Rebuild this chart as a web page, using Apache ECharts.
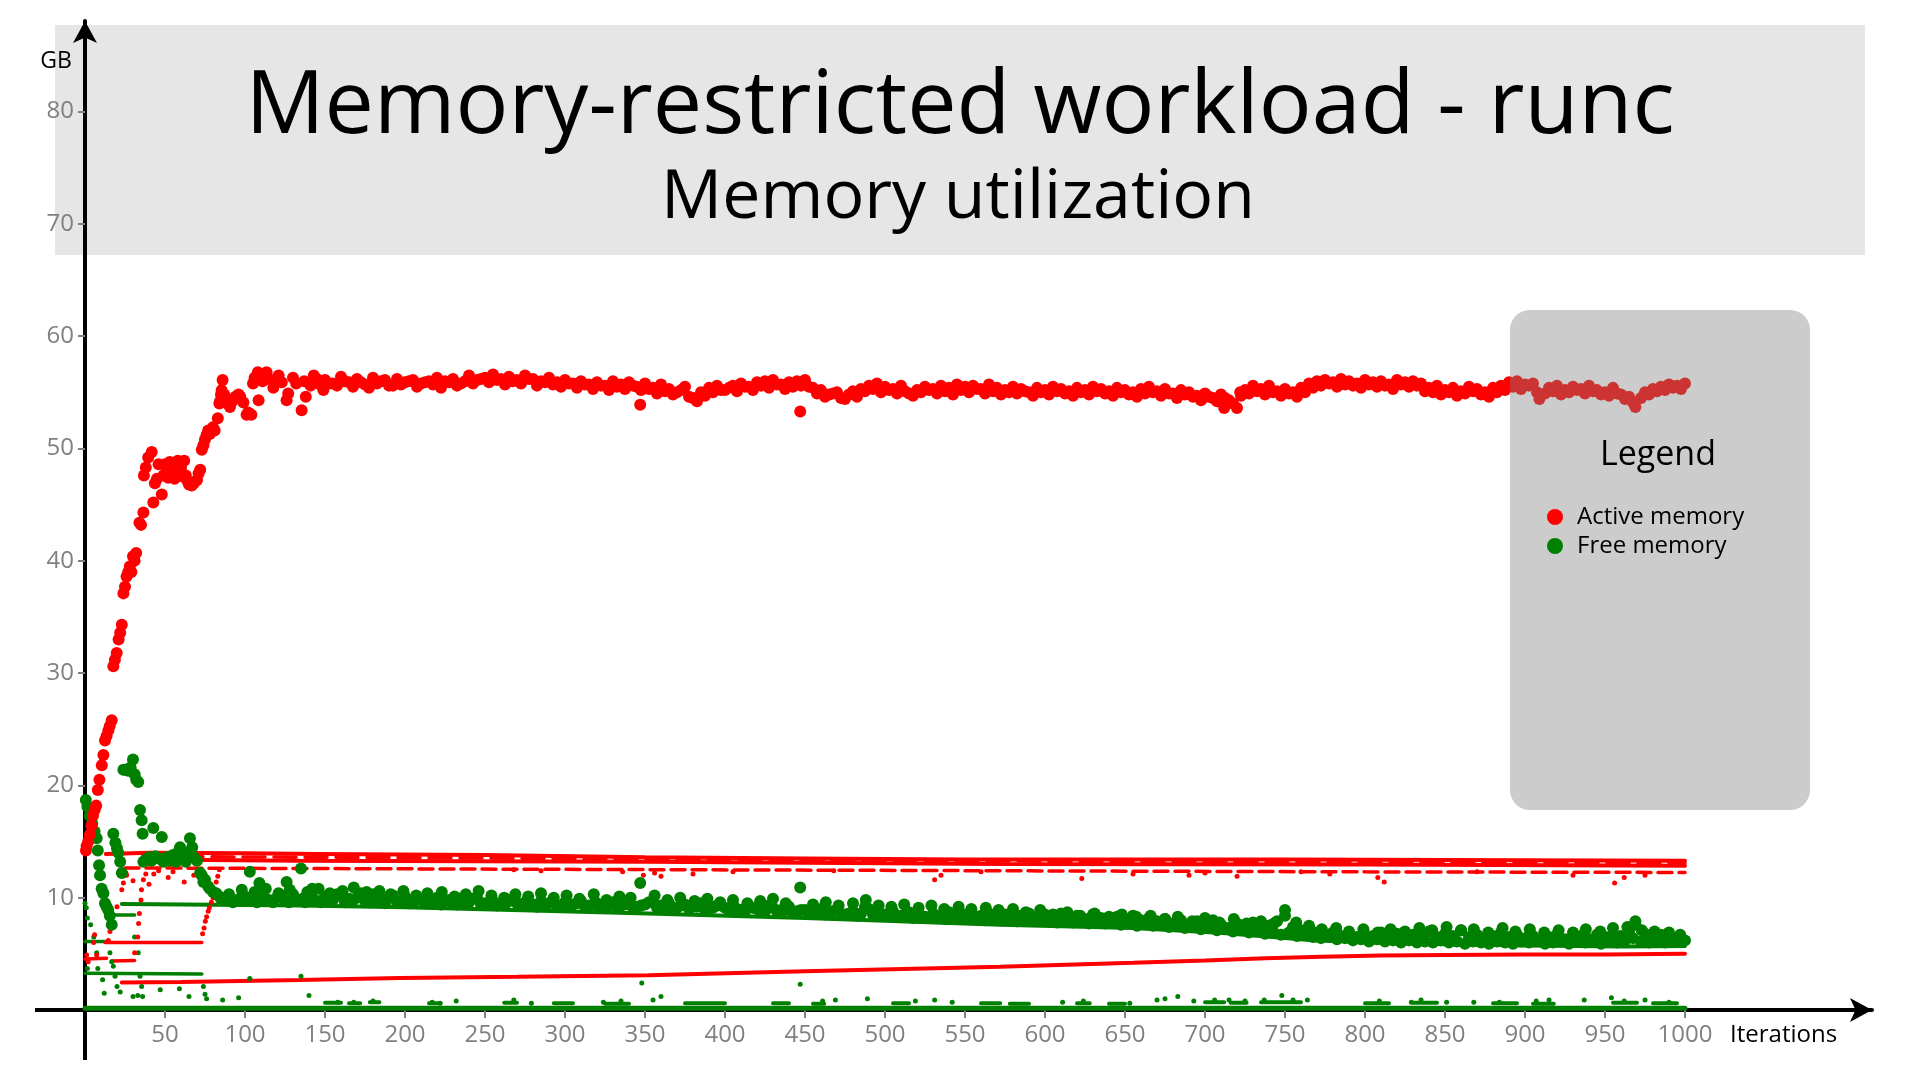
<!DOCTYPE html>
<html><head><meta charset="utf-8">
<script src="https://cdn.jsdelivr.net/npm/echarts@6/dist/echarts.min.js"></script>
<style>html,body{margin:0;padding:0;background:#fff}#c{width:1920px;height:1080px}</style>
</head><body><div id="c"></div>
<script>
// ---------- tick labels ----------
const xTicks = [50,100,150,200,250,300,350,400,450,500,550,600,650,700,750,800,850,900,950,1000];
const yTicks = [10,20,30,40,50,60,70,80];
const seriesNames = ['Active memory', 'Free memory'];

// ---------- Active memory (large markers) [iteration, GB] ----------
const activeMain = [
[0.6,14.2],[1,14.6],[2,15.0],[3,15.6],[4,16.4],[5,17.3],[6,17.8],[7,18.2],[8,19.6],[9,20.5],[10.5,21.8],[11.5,22.7],[12.5,24.0],[13.5,24.4],[14.6,24.9],[15.5,25.3],[16.7,25.8],
[17.7,30.6],[18.7,31.2],[19.8,31.8],[21,33.0],[22,33.6],[23,34.3],[24,37.1],[25,37.7],[26,38.6],[27,39.0],[28,39.5],[29,39.0],[30,40.4],[31,40.0],[32,40.7],[34,43.4],[35,43.2],[36.5,44.3],[36.8,47.6],[38,48.3],[39.5,49.2],[41.7,49.7],[42.7,45.2],[43.7,46.9],[45,47.3],[46,48.6],[48,45.9],[49,47.6],[50,48.6],[51,48.1],[52,47.4],[53,48.8],[54,47.9],[55,48.4],[56,47.3],[57,48.0],[58,48.9],[59,47.8],[60,48.3],[61,47.5],[62,48.9],[63,47.6],[64,47.1],[65,46.8],[66.7,46.7],[68,46.9],[70,47.2],[71,47.8],[72,48.1],[73,49.9],[74,50.3],[75,50.8],[76,51.2],[77,51.6],[78,51.3],[80,51.9],[81,51.6],[83,52.7],[84,54.0],[84.4,54.2],[85,54.8],[85.4,55.2],[86,56.1],[87,54.8],[89,54.0],[90.6,53.7],[92,54.2],[94,54.6],[96,54.8],[97,54.6],[99,54.1],[101,53.0],[102,53.2],[104,53.0],[105,55.8],[106,56.3],[108,56.8],[108.5,54.3],[111,56.0],[113.5,56.8],[115,56.2],[117.7,55.4],[119,56.0],[121,56.5],[123,55.9],[126,54.3],[127,54.9],[130,56.3],[132,55.8],[135.4,53.4],[137,56.0],[138,54.6],[141,55.6],[143,56.5],[145,56.2],[147,55.7],[149,55.2],
[150,56.1],[155,55.8],[160,56.4],[165,55.9],[170,56.2],[175,55.7],[180,56.3],[185,56.0],[190,55.6],[195,56.2],[200,55.9],[205,56.1],[210,55.8],[215,56.0],[220,56.3],[225,56.0],[230,56.2],[235,55.8],[240,56.5],[245,56.1],[250,56.3],[255,56.6],[260,56.2],[265,56.4],[270,56.1],[275,56.5],[280,56.2],[285,56.0],[290,56.3],[295,55.9],[300,56.1],[305,55.8],[310,56.0],[315,55.7],[320,55.9],[325,55.6],[330,56.0],[335,55.7],[340,55.9],[345,55.5],[347,53.9],[350,55.8],[355,55.4],[360,55.7],[365,55.3],[370,55.0],[375,55.5],[380,54.5],[385,55.0],[390,55.4],[395,55.6],[400,55.2],[405,55.6],[410,55.8],[415,55.5],[420,55.9],[425,56.0],[430,56.1],[435,55.7],[440,55.9],[445,56.0],[447,53.3],[450,56.1],[455,55.4],[460,55.2],[465,54.8],[470,55.0],[475,54.4],[480,55.1],[485,55.3],[490,55.6],[495,55.8],[500,55.5],[505,55.3],[510,55.6],[515,54.9],[520,55.2],[525,55.5],[530,55.3],[535,55.6],[540,55.4],[545,55.7],[550,55.5],[555,55.6],[560,55.3],[565,55.7],[570,55.4],[575,55.2],[580,55.5],[585,55.3],[590,55.0],[595,55.4],[600,55.2],[605,55.5],[610,55.3],[615,55.1],[620,55.4],[625,55.2],[630,55.5],[635,55.3],[640,55.1],[645,55.4],[650,55.2],[655,55.0],[660,55.3],[665,55.5],[670,55.1],[675,55.3],[680,54.9],[685,55.2],[690,55.0],[695,54.7],[700,54.9],[705,54.5],[710,54.8],[712,53.6],[715,54.3],[720,53.6],[722,55.0],[725,55.2],[730,55.6],[735,55.3],[740,55.6],[745,55.1],[750,55.3],[755,55.0],[760,55.4],[765,55.8],[770,56.0],[775,56.1],[780,55.9],[785,56.2],[790,56.0],[795,55.8],[800,56.1],[805,55.9],[810,56.0],[815,55.7],[820,56.1],[825,55.9],[830,56.0],[835,55.8],[840,55.4],[845,55.6],[850,55.2],[855,55.4],[860,55.1],[865,55.5],[870,55.3],[875,55.0],[880,55.4],[885,55.6],[890,55.9],[895,56.0],[900,55.7],[905,55.8],[909,54.4],[915,55.4],[920,55.6],[925,55.2],[930,55.5],[935,55.3],[940,55.6],[945,55.2],[950,55.0],[955,55.4],[960,54.8],[965,54.6],[969,53.7],[975,55.0],[980,55.3],[985,55.5],[990,55.7],[995,55.6],[1000,55.8]
];
const activeMainB = [
[152.5,55.8],[157.5,55.6],[162.5,56.0],[167.5,55.5],[172.5,55.9],[177.5,55.4],[182.5,55.8],[187.5,56.1],[192.5,55.6],[197.5,55.7],
[202.5,56.0],[207.5,55.5],[212.5,55.9],[217.5,55.7],[222.5,55.4],[227.5,55.9],[232.5,55.6],[237.5,56.0],[242.5,55.8],[247.5,56.2],
[252.5,55.9],[257.5,56.1],[262.5,55.7],[267.5,56.0],[272.5,55.8],[277.5,56.2],[282.5,55.6],[287.5,55.9],[292.5,55.7],[297.5,55.5],
[302.5,55.8],[307.5,55.4],[312.5,55.7],[317.5,55.3],[322.5,55.6],[327.5,55.2],[332.5,55.5],[337.5,55.3],[342.5,55.6],[347.5,55.2],
[352.5,55.3],[357.5,54.9],[362.5,55.1],[367.5,54.8],[372.5,55.2],[377.5,54.6],[382.5,54.2],[387.5,54.7],[392.5,55.0],[397.5,55.2],
[402.5,55.4],[407.5,55.1],[412.5,55.5],[417.5,55.2],[422.5,55.6],[427.5,55.4],[432.5,55.7],[437.5,55.3],[442.5,55.5],[447.5,55.6],
[452.5,55.5],[457.5,54.9],[462.5,54.6],[467.5,54.9],[472.5,54.5],[477.5,54.8],[482.5,54.6],[487.5,55.1],[492.5,55.3],[497.5,55.0],
[502.5,55.2],[507.5,54.9],[512.5,55.1],[517.5,54.7],[522.5,55.0],[527.5,55.2],[532.5,54.9],[537.5,55.1],[542.5,54.8],[547.5,55.2],
[552.5,55.0],[557.5,55.3],[562.5,54.9],[567.5,55.1],[572.5,54.8],[577.5,55.0],[582.5,54.9],[587.5,55.1],[592.5,54.7],[597.5,55.0],
[602.5,54.8],[607.5,55.1],[612.5,54.9],[617.5,54.7],[622.5,55.0],[627.5,54.8],[632.5,55.1],[637.5,54.9],[642.5,54.7],[647.5,55.0],
[652.5,54.8],[657.5,54.6],[662.5,54.9],[667.5,55.0],[672.5,54.7],[677.5,54.9],[682.5,54.5],[687.5,54.8],[692.5,54.6],[697.5,54.3],
[702.5,54.6],[707.5,54.2],[712.5,54.5],[717.5,54.0],[722.5,54.7],[727.5,54.9],[732.5,55.1],[737.5,54.8],[742.5,55.0],[747.5,54.7],
[752.5,54.9],[757.5,54.6],[762.5,55.0],[767.5,55.4],[772.5,55.6],[777.5,55.8],[782.5,55.5],[787.5,55.7],[792.5,55.6],[797.5,55.4],
[802.5,55.7],[807.5,55.5],[812.5,55.6],[817.5,55.3],[822.5,55.7],[827.5,55.5],[832.5,55.6],[837.5,55.1],[842.5,55.0],[847.5,54.8],
[852.5,55.0],[857.5,54.7],[862.5,54.9],[867.5,55.1],[872.5,54.8],[877.5,54.6],[882.5,55.0],[887.5,55.2],[892.5,55.5],[897.5,55.3],
[902.5,55.6],[907.5,55.0],[912.5,54.9],[917.5,55.1],[922.5,54.8],[927.5,55.0],[932.5,55.2],[937.5,54.9],[942.5,55.1],[947.5,54.8],
[952.5,54.7],[957.5,54.9],[962.5,54.4],[967.5,54.1],[972.5,54.5],[977.5,54.8],[982.5,55.1],[987.5,55.2],[992.5,55.4],[997.5,55.3]
];

// ---------- Free memory (large markers) ----------
const freeMain = [
[0.5,18.7],[1.5,18.1],[3,17.3],[4.5,16.6],[6,15.9],[7.3,15.3],[8,14.2],[8.8,12.9],[9.4,12.0],[10.4,10.8],[11.5,10.4],[12.5,9.5],[13.5,9.2],[14.5,8.9],[15.5,8.4],[16.7,7.6],
[17.7,15.7],[19,14.9],[20,14.4],[20.8,14.0],[22,13.2],[23,12.2],[24,21.4],[25.5,21.4],[27,21.3],[28.5,21.6],[30,22.3],[31,21.0],[32,20.5],[33.3,20.3],[34.4,17.8],[35.4,16.9],[36,15.7],[36.5,13.2],[38,13.4],[40,13.6],[41.5,13.3],[42.7,16.2],[44,13.7],[46,13.5],[48,15.4],[49,13.2],[51,13.6],[53,13.3],[55,13.8],[57,13.2],[58,14.0],[59.4,14.5],[61,13.5],[63,13.2],[64,14.0],[65.6,15.3],[67,14.5],[68,13.6],[70,13.3],[72,12.2],[73,12.0],[74,11.4],[75,11.6],[77,11.0],[78,10.8],[80,10.5],[82,10.4],[84,10.1],
[85,9.9],[90,10.3],[95,9.8],[100,10.1],[103,12.3],[105,9.9],[109,11.3],[110,10.2],[115,9.8],[120,10.0],[125,9.7],[126,11.4],[130,10.3],[135,12.6],[136,9.9],[140,10.0],[142,10.8],[145,9.7],[150,10.1],[155,9.8],[160,10.2],[165,9.9],[170,10.0],[175,9.7],[180,10.3],[185,9.8],[190,10.0],[195,9.6],[200,10.1],[205,9.7],[210,9.9],[215,9.6],[220,10.0],[225,9.7],[230,9.5],[235,9.9],[240,9.6],[245,10.0],[250,9.5],[255,9.7],[260,9.4],[265,9.8],[270,9.5],[275,9.6],[280,9.4],[285,9.7],[290,9.5],[295,9.3],[300,9.6],[305,9.4],[310,9.7],[315,9.3],[320,9.5],[325,9.2],[330,9.6],[335,9.3],[340,9.5],[345,9.2],[347,11.3],[350,9.4],[355,9.7],[360,9.3],[365,9.5],[370,9.1],[375,9.4],[380,9.2],[385,9.5],[390,9.0],[395,9.3],[400,9.1],[405,9.4],[410,8.9],[415,9.2],[420,9.0],[425,8.8],[430,9.1],[435,8.9],[440,9.2],[445,8.8],[447,10.9],[450,8.9],[455,8.7],[460,9.0],[465,8.6],[470,8.9],[475,8.5],[480,8.8],[485,8.6],[490,9.0],[495,8.7],[500,8.5],[505,8.8],[510,8.4],[515,8.7],[520,8.5],[525,8.3],[530,8.6],[535,8.4],[540,8.7],[545,8.3],[550,8.5],[555,8.2],[560,8.4],[565,8.6],[570,8.3],[575,8.5],[580,8.7],[585,8.4],[590,8.6],[595,8.2],[600,8.5],[605,8.3],[610,8.6],[615,8.2],[620,8.4],[625,8.1],[630,8.5],[635,8.2],[640,8.0],[645,8.3],[650,8.1],[655,8.4],[660,8.0],[665,8.2],[670,7.9],[675,8.1],[680,7.7],[685,8.0],[690,7.6],[695,7.9],[700,7.5],[705,8.0],[710,7.6],[715,7.3],[720,7.7],[725,7.4],[730,7.8],[735,7.2],[740,7.5],[745,7.9],[750,8.4],[755,7.4],[760,7.1],[765,7.3],[770,6.9],[775,6.7],[780,6.9],[785,6.6],[790,6.8],[795,6.5],[800,6.7],[805,6.6],[810,6.9],[815,6.5],[820,6.8],[825,6.4],[830,6.7],[835,6.6],[840,7.0],[845,6.5],[850,6.8],[855,6.6],[860,7.1],[865,6.5],[870,6.7],[875,6.4],[880,6.6],[885,6.9],[890,6.5],[895,6.7],[900,6.4],[905,6.6],[910,6.3],[915,6.5],[920,6.7],[925,6.3],[930,6.5],[935,6.6],[940,6.3],[945,6.7],[950,6.5],[955,6.8],[960,6.6],[965,7.0],[969,7.6],[975,6.8],[980,6.5],[985,6.7],[990,6.4],[995,6.3],[1000,6.2]
];
const freeMainB = [
[87.5,9.8],[92.5,9.6],[97.5,10.0],[102.5,9.7],[107.5,9.6],[112.5,9.9],[117.5,9.6],[122.5,10.2],[127.5,9.6],[132.5,9.8],
[137.5,9.6],[142.5,9.9],[147.5,9.6],[152.5,9.7],[157.5,10.3],[162.5,9.6],[167.5,9.8],[172.5,10.4],[177.5,9.6],[182.5,9.7],
[187.5,9.5],[192.5,10.2],[197.5,9.6],[202.5,9.5],[207.5,9.8],[212.5,9.5],[217.5,9.7],[222.5,9.4],[227.5,9.8],[232.5,9.4],
[237.5,9.5],[242.5,9.9],[247.5,9.4],[252.5,9.6],[257.5,9.3],[262.5,9.4],[267.5,9.7],[272.5,9.3],[277.5,9.5],[282.5,9.2],
[287.5,9.4],[292.5,9.8],[297.5,9.2],[302.5,9.3],[307.5,9.5],[312.5,9.2],[317.5,9.4],[322.5,9.1],[327.5,9.3],[332.5,9.2],
[337.5,9.4],[342.5,9.1],[347.5,9.3],[352.5,9.6],[357.5,9.1],[362.5,9.2],[367.5,9.0],[372.5,9.3],[377.5,9.0],[382.5,9.2],
[387.5,8.9],[392.5,9.1],[397.5,9.3],[402.5,8.9],[407.5,9.0],[412.5,8.8],[417.5,9.1],[422.5,8.8],[427.5,9.3],[432.5,8.8],
[437.5,8.9],[442.5,8.7],[447.5,8.9],[452.5,8.6],[457.5,8.8],[462.5,8.5],[467.5,8.8],[472.5,8.5],[477.5,8.6],[482.5,8.4],
[487.5,9.2],[492.5,8.5],[497.5,8.4],[502.5,8.6],[507.5,8.3],[512.5,8.5],[517.5,8.2],[522.5,8.4],[527.5,8.2],[532.5,8.3],
[537.5,8.1],[542.5,8.4],[547.5,8.2],[552.5,8.1],[557.5,8.3],[562.5,8.0],[567.5,8.2],[572.5,8.0],[577.5,8.2],[582.5,7.9],
[587.5,8.1],[592.5,8.0],[597.5,7.9],[602.5,8.1],[607.5,7.8],[612.5,8.0],[617.5,7.8],[622.5,8.0],[627.5,7.7],[632.5,7.9],
[637.5,7.7],[642.5,7.8],[647.5,7.6],[652.5,7.8],[657.5,7.5],[662.5,7.7],[667.5,7.5],[672.5,7.6],[677.5,7.4],[682.5,7.6],
[687.5,7.3],[692.5,7.5],[697.5,7.2],[702.5,7.4],[707.5,7.1],[712.5,7.3],[717.5,7.0],[722.5,7.2],[727.5,6.9],[732.5,7.1],
[737.5,6.8],[742.5,7.0],[747.5,6.7],[752.5,6.9],[757.5,6.6],[762.5,6.7],[767.5,6.5],[772.5,6.4],[777.5,6.5],[782.5,6.3],
[787.5,6.4],[792.5,6.2],[797.5,6.3],[802.5,6.1],[807.5,6.3],[812.5,6.1],[817.5,6.2],[822.5,6.0],[827.5,6.2],[832.5,6.0],
[837.5,6.1],[842.5,6.0],[847.5,6.2],[852.5,6.0],[857.5,6.1],[862.5,5.9],[867.5,6.1],[872.5,6.0],[877.5,5.9],[882.5,6.1],
[887.5,6.0],[892.5,5.9],[897.5,6.1],[902.5,6.0],[907.5,6.2],[912.5,5.9],[917.5,6.0],[922.5,6.2],[927.5,5.9],[932.5,6.1],
[937.5,6.0],[942.5,6.2],[947.5,5.9],[952.5,6.1],[957.5,6.0],[962.5,6.2],[967.5,6.4],[972.5,6.1],[977.5,6.0],[982.5,6.2],
[987.5,6.0],[992.5,6.3],[997.5,6.1]
];
const freeMainC = [
[98,10.7],[106,10.5],[113,10.8],[121,10.4],[128,10.7],[139,10.5],[146,10.8],[153,10.4],[161,10.6],[168,10.9],[176,10.5],[184,10.6],[191,10.3],[199,10.6],
[207,10.2],[214,10.4],[223,10.5],[231,10.1],[238,10.3],[246,10.6],[254,10.2],[262,10.0],[269,10.3],[277,10.1],[285,10.4],[293,10.0],[301,10.2],[309,9.9],
[318,10.3],[326,9.8],[334,10.1],[341,10.0],[356,10.2],[364,9.8],[372,10.0],[381,9.7],[389,9.9],[397,9.6],[405,9.8],[414,9.5],[422,9.7],[430,9.9],[438,9.5],
[455,9.4],[463,9.6],[471,9.3],[480,9.5],[488,9.8],[496,9.3],[504,9.2],[512,9.4],[521,9.1],[529,9.3],[537,9.0],[546,9.2],[554,9.0],[563,9.1],[571,8.9],
[580,9.0],[588,8.7],[597,8.9],[605,8.5],[614,8.7],[622,8.4],[631,8.6],[640,8.3],[648,8.5],[657,8.3],[666,8.4],[675,8.1],[683,8.3],[692,7.9],[700,8.2],
[709,7.8],[718,8.1],[726,7.7],[735,7.9],[743,7.7],[750,8.9],[757,7.8],[765,7.5],[773,7.2],[782,7.3],[790,7.0],[799,7.2],[808,6.9],[816,7.2],[825,7.0],
[834,7.3],[842,7.1],[851,7.4],[860,7.1],[868,7.2],[877,6.9],[886,7.3],[894,7.0],[903,7.2],[912,6.9],[921,7.1],[930,6.9],[938,7.2],[947,7.0],[955,7.3],
[964,7.4],[969,7.9],[973,7.1],[981,7.0],[990,6.9],[997,6.7]
];

// ---------- Active memory (small markers, traced as lines) ----------
const activeBandTop = [[13,13.9],[40,14.0],[100,13.95],[145,13.9],[250,13.8],[350,13.6],[450,13.5],[550,13.4],[650,13.4],[750,13.4],[850,13.35],[1000,13.3]];
const activeBandUpper = [[60,13.65],[150,13.6],[300,13.5],[500,13.3],[700,13.2],[1000,13.1]];
const activeBandMid = [[35,13.4],[134,13.3],[352,13.2],[572,13.0],[800,12.95],[1000,12.85]];
const activeBandLow = [[25,12.65],[134,12.6],[352,12.5],[572,12.4],[800,12.3],[1000,12.25]];
const activeRising = [[23,2.45],[60,2.5],[134,2.67],[197,2.85],[270,2.95],[352,3.1],[450,3.45],[572,3.86],[655,4.2],[700,4.4],[738,4.6],[773,4.75],[810,4.85],[851,4.9],[900,4.95],[950,4.95],[1000,5.0]];
const activeSix = [[12.5,6.0],[73,6.0]];
const activeEarlyA = [[0,4.55],[13.5,4.6]];
const activeEarlyB = [[16.7,4.36],[31,4.4]];
const activeDots = [
[1,4.9],[2,4.3],[5.4,6.0],[6,6.7],[7.3,4.9],[14.6,6.2],[15.6,7.0],[17.7,7.7],[20,9.2],[23,10.7],[24,11.3],[25.6,12.2],
[31,5.1],[33,6.5],[33.5,7.7],[34,8.6],[35,9.8],[35.3,10.7],[36.5,11.6],[38,12.1],
[73.5,6.8],[74.4,7.3],[75.2,7.9],[76,8.3],[77,8.8],[77.7,9.1],[79,9.6],[80,10.0],[81,10.4],[82,11.4],[83,11.9],[84,12.5],
[26,12.0],[30,11.5],[40,11.2],[43,12.1],[46,12.4],[52,11.8],[55,12.3],[62,11.4],[68,12.0],
[268,12.5],[285,12.4],[336,12.3],[349,12.0],[356,12.2],[360,11.9],[380,12.1],[405,12.3],[468,12.4],[531,11.6],[535,12.0],[560,12.3],[623,11.7],[655,12.1],[690,12.0],[700,12.2],[720,11.9],[760,12.3],[778,12.1],[808,11.8],[812,11.4],[870,12.3],[930,12.0],[956,11.3],[962,11.8],[975,12.0]
];

// ---------- Free memory (small markers, traced as lines) ----------
const freeFalling = [[23,9.45],[100,9.35],[134,9.3],[200,9.15],[352,8.6],[450,8.2],[572,7.6],[655,7.3],[711,6.85],[750,6.4],[767,6.2],[809,6.0],[851,5.85],[900,5.75],[962,5.65],[1000,5.7]];
const freeEightHalf = [[17.7,8.45],[31,8.45]];
const freeSix = [[0,6.1],[12.5,6.1]];
const freeThree = [[0,3.27],[73,3.2]];
const freeBottom = [[0,0.15],[1000,0.15]];
const freeBottomBits = [
[150,0.65],[160,0.65],[160,'-'],[165,0.6],[172,0.6],[172,'-'],[178,0.7],[184,0.7],[184,'-'],[215,0.6],[222,0.6],[222,'-'],[262,0.65],[270,0.65],[270,'-'],
[293,0.6],[305,0.6],[305,'-'],[325,0.55],[340,0.55],[340,'-'],[375,0.6],[400,0.6],[400,'-'],[430,0.6],[440,0.6],[440,'-'],[455,0.55],[462,0.55],[462,'-'],
[505,0.6],[515,0.6],[515,'-'],[560,0.6],[572,0.6],[572,'-'],[578,0.55],[590,0.55],[590,'-'],[620,0.6],[628,0.6],[628,'-'],[640,0.55],[650,0.55],[650,'-'],
[700,0.7],[712,0.7],[712,'-'],[716,0.65],[726,0.65],[726,'-'],[735,0.7],[760,0.7],[760,'-'],[800,0.6],[815,0.6],[815,'-'],[830,0.65],[845,0.65],[845,'-'],
[880,0.6],[895,0.6],[895,'-'],[905,0.55],[918,0.55],[918,'-'],[955,0.65],[970,0.65],[970,'-'],[980,0.6],[995,0.6]
];
const freeDots = [
[0,9.5],[0.8,9.1],[1.5,8.2],[3.5,7.6],[5.5,6.5],[7.3,5.1],[1.5,3.7],[8,3.7],[11,2.7],[12,1.5],[15.6,5.1],[16.7,4.3],[17.7,3.9],[18.75,3.0],[20,2.1],[22,1.6],
[31,6.5],[33.3,5.1],[34.4,3.0],[35.4,2.1],[30,1.2],[33,1.3],[36,1.2],[47,1.8],[59,1.9],[65,1.2],[74,2.1],[75,1.4],[76,1.0],[86,0.9],[96,1.1],
[103,2.8],[135,3.0],[140,1.3],[158,0.7],[168,0.7],[180,0.8],[217,0.7],[222,0.6],[232,0.8],[268,0.9],[279,0.6],[324,0.7],[335,0.8],[348,2.4],[355,0.9],[360,1.2],[447,2.3],[461,0.8],[469,0.9],[489,1.0],[519,0.8],[531,0.9],[542,0.7],
[611,0.7],[624,0.8],[653,0.6],[670,0.9],[675,1.0],[683,1.2],[693,0.8],[706,0.9],[715,0.9],[725,0.8],[737,0.9],[748,1.3],[755,0.9],[764,0.9],[809,0.8],[829,0.7],[835,0.9],[851,0.7],[868,0.7],[884,0.7],[907,0.8],[915,0.9],[937,0.9],[954,1.1],[962,0.8],[975,0.9],[990,0.7]
];

const RED = '#ff0000', GREEN = '#008000', FONT = 'Open Sans';

function lineS(name, color, data, width, dash) {
  return { type: 'line', name, color, data, showSymbol: false, symbol: 'none', silent: true, z: 2, connectNulls: false,
    lineStyle: { color, width, type: dash ? dash : 'solid', cap: 'round' } };
}
function dotS(name, color, data, size) {
  return { type: 'scatter', name, color, data, symbol: 'circle', symbolSize: size, silent: true, z: 2,
    itemStyle: { color, opacity: 1 } };
}

const series = [
  lineS(seriesNames[1], GREEN, freeBottom, 5),
  lineS(seriesNames[1], GREEN, freeBottomBits, 4),
  lineS(seriesNames[1], GREEN, freeThree, 3.5),
  lineS(seriesNames[1], GREEN, freeSix, 3.5),
  lineS(seriesNames[1], GREEN, freeEightHalf, 3.5),
  lineS(seriesNames[1], GREEN, freeFalling, 4),
  lineS(seriesNames[0], RED, activeSix, 3.5),
  lineS(seriesNames[0], RED, activeEarlyA, 3.5),
  lineS(seriesNames[0], RED, activeEarlyB, 3.5),
  lineS(seriesNames[0], RED, activeRising, 4),
  lineS(seriesNames[0], RED, activeBandTop, 4),
  lineS(seriesNames[0], RED, activeBandUpper, 3.5, [22, 9]),
  lineS(seriesNames[0], RED, activeBandMid, 4),
  lineS(seriesNames[0], RED, activeBandLow, 3.5, [14, 7]),
  dotS(seriesNames[1], GREEN, freeDots, 5),
  dotS(seriesNames[0], RED, activeDots, 5),
  dotS(seriesNames[1], GREEN, freeMainB, 12),
  dotS(seriesNames[1], GREEN, freeMainC, 12),
  dotS(seriesNames[1], GREEN, freeMain, 12),
  dotS(seriesNames[0], RED, activeMainB, 12),
  dotS(seriesNames[0], RED, activeMain, 12)
];

const chart = echarts.init(document.getElementById('c'));
chart.setOption({
  animation: false,
  backgroundColor: '#ffffff',
  grid: { left: 85, right: 48, top: 21, bottom: 70, containLabel: false, outerBoundsMode: 'none' },
  xAxis: {
    type: 'value', min: 0, max: 1116.875,
    axisLine: { show: true, onZero: false, symbol: ['none', 'arrow'], symbolSize: [18, 22],
      lineStyle: { color: '#000', width: 4 } },
    axisTick: { show: true, customValues: xTicks, length: 8, lineStyle: { color: '#808080', width: 2 } },
    axisLabel: { show: true, customValues: xTicks, margin: 13, color: '#808080', fontSize: 24, fontFamily: FONT,
      formatter: v => String(v) },
    splitLine: { show: false }
  },
  yAxis: {
    type: 'value', min: 0, max: 88.07,
    axisLine: { show: true, onZero: false, symbol: ['none', 'arrow'], symbolSize: [18, 22],
      lineStyle: { color: '#000', width: 4 } },
    axisTick: { show: true, customValues: yTicks, length: 7, lineStyle: { color: '#808080', width: 2 } },
    axisLabel: { show: true, customValues: yTicks, margin: 11, color: '#808080', fontSize: 24, fontFamily: FONT,
      formatter: v => String(v) },
    splitLine: { show: false }
  },
  legend: {
    show: true, data: seriesNames, orient: 'vertical', left: 1547, top: 505, padding: 0,
    icon: 'circle', itemWidth: 16, itemHeight: 16, itemGap: 5, selectedMode: false,
    textStyle: { fontSize: 24, lineHeight: 24, color: '#000', fontFamily: FONT, padding: [0, 0, 0, 9] },
    z: 5
  },
  graphic: [
    { type: 'rect', z: -10, shape: { x: 55, y: 25, width: 1810, height: 230 }, style: { fill: '#e6e6e6' }, silent: true },
    { type: 'line', z: 1, shape: { x1: 35, y1: 1010, x2: 87, y2: 1010 }, style: { stroke: '#000', lineWidth: 4 }, silent: true },
    { type: 'line', z: 1, shape: { x1: 85, y1: 1008, x2: 85, y2: 1060 }, style: { stroke: '#000', lineWidth: 4 }, silent: true },
    { type: 'text', z: 10, x: 960, y: 108, style: { text: 'Memory-restricted workload - runc', fill: '#000',
      font: '88px "Open Sans"', textAlign: 'center', textVerticalAlign: 'middle' }, silent: true },
    { type: 'text', z: 10, x: 958, y: 199, style: { text: 'Memory utilization', fill: '#000',
      font: '68px "Open Sans"', textAlign: 'center', textVerticalAlign: 'middle' }, silent: true },
    { type: 'text', z: 10, x: 56, y: 61, style: { text: 'GB', fill: '#000',
      font: '23px "Open Sans"', textAlign: 'center', textVerticalAlign: 'middle' }, silent: true },
    { type: 'text', z: 10, x: 1730, y: 1035, style: { text: 'Iterations', fill: '#000',
      font: '24px "Open Sans"', textAlign: 'left', textVerticalAlign: 'middle' }, silent: true },
    { type: 'rect', z: 3, shape: { x: 1510, y: 310, width: 300, height: 500, r: 20 }, style: { fill: 'rgba(128,128,128,0.4)' }, silent: true },
    { type: 'text', z: 10, x: 1658, y: 455, style: { text: 'Legend', fill: '#000',
      font: '34px "Open Sans"', textAlign: 'center', textVerticalAlign: 'middle' }, silent: true }
  ],
  series
});
</script></body></html>
